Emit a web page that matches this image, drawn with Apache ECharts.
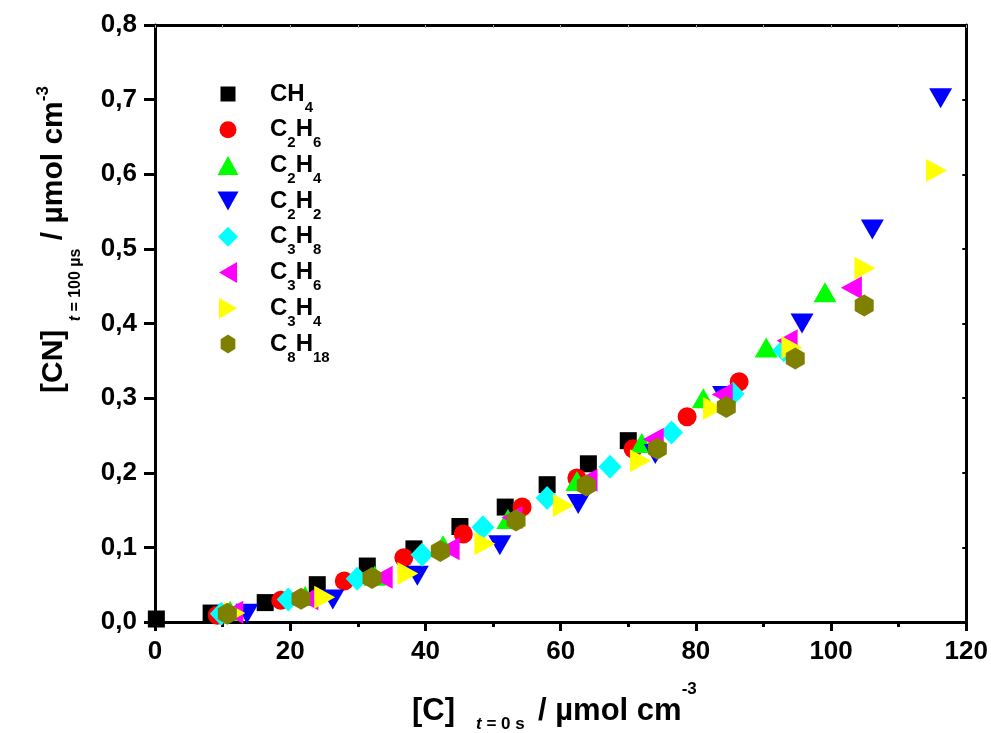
<!DOCTYPE html>
<html>
<head>
<meta charset="utf-8">
<script src="https://cdn.jsdelivr.net/npm/echarts@6/dist/echarts.min.js"></script>
<style>
  html, body { margin: 0; padding: 0; background: #fff; }
  #chart { width: 991px; height: 733px; }
</style>
</head>
<body>
<div id="chart"></div>
<script>
// [C] at t = 0 s (µmol cm-3) vs [CN] at t = 100 µs (µmol cm-3), one array per precursor
const CH4 = [[0.2, 0.004], [8.3, 0.012], [16.3, 0.026], [24.0, 0.050], [31.4, 0.075], [38.3, 0.098],
  [45.1, 0.128], [51.8, 0.154], [58.0, 0.184], [64.1, 0.212], [70.0, 0.243]];
const C2H6 = [[9.2, 0.009], [18.6, 0.029], [28.0, 0.055], [36.8, 0.086], [45.6, 0.118],
  [54.3, 0.154], [62.4, 0.193], [70.7, 0.232], [78.7, 0.275], [86.4, 0.322]];
const C2H4 = [[11.1, 0.015], [22.2, 0.035], [32.5, 0.062], [42.6, 0.103], [52.2, 0.138],
  [62.4, 0.189], [72.0, 0.240], [81.1, 0.300], [90.4, 0.368], [99.1, 0.442]];
const C2H2 = [[13.6, 0.011], [26.3, 0.030], [38.8, 0.062], [51.0, 0.103], [62.6, 0.158],
  [74.0, 0.225], [84.1, 0.303], [95.7, 0.400], [106.1, 0.526], [116.2, 0.702]];
const C3H8 = [[9.8, 0.011], [19.7, 0.030], [29.9, 0.058], [39.5, 0.090], [48.5, 0.127],
  [58.0, 0.166], [67.3, 0.208], [76.4, 0.254], [85.5, 0.306], [93.0, 0.364]];
const C3H6 = [[11.5, 0.013], [22.6, 0.031], [33.6, 0.060], [43.5, 0.098], [52.8, 0.140],
  [63.9, 0.190], [73.7, 0.245], [83.9, 0.305], [93.5, 0.377], [103.0, 0.448]];
const C3H4 = [[11.8, 0.012], [25.1, 0.033], [37.4, 0.065], [48.8, 0.105], [60.4, 0.156],
  [71.8, 0.216], [82.6, 0.286], [94.2, 0.368], [105.0, 0.474], [115.6, 0.605]];
const C8H18 = [[10.7, 0.011], [21.6, 0.031], [32.1, 0.059], [42.2, 0.095], [53.4, 0.136],
  [63.8, 0.183], [74.3, 0.232], [84.5, 0.288], [94.7, 0.353], [104.9, 0.424]];

const names = ['CH4', 'C2H6', 'C2H4', 'C2H2', 'C3H8', 'C3H6', 'C3H4', 'C8H18'];
const xTicks = [0, 20, 40, 60, 80, 100, 120];
const yTicks = [0, 0.1, 0.2, 0.3, 0.4, 0.5, 0.6, 0.7, 0.8];

const FONT = '"Liberation Sans", Arial, sans-serif';

// marker outlines on a unit box (scaled to symbolSize)
const SHAPES = {
  square:  'M-1,-1L1,-1L1,1L-1,1Z',
  up:      'M0,-1L1,1L-1,1Z',
  down:    'M-1,-1L1,-1L0,1Z',
  left:    'M-1,0L1,-1L1,1Z',
  right:   'M1,0L-1,-1L-1,1Z',
  diamond: 'M0,-1L1,0L0,1L-1,0Z',
  hexagon: 'M0,-1L0.866,-0.5L0.866,0.5L0,1L-0.866,0.5L-0.866,-0.5Z'
};

const styles = {
  CH4:   { shape: 'square',  size: [17, 17], icon: [15, 15], color: '#000000' },
  C2H6:  { shape: 'circle',  size: [19, 19], icon: [17, 17], color: '#ff0000' },
  C2H4:  { shape: 'up',      size: [23, 20], icon: [21, 19], color: '#00ff00' },
  C2H2:  { shape: 'down',    size: [23, 20], icon: [21, 19], color: '#0000ff' },
  C3H8:  { shape: 'diamond', size: [23, 24], icon: [20, 20], color: '#00ffff' },
  C3H6:  { shape: 'left',    size: [21, 23], icon: [18, 21], color: '#ff00ff' },
  C3H4:  { shape: 'right',   size: [21, 23], icon: [18, 21], color: '#ffff00' },
  C8H18: { shape: 'hexagon', size: [19, 22], icon: [17, 19], color: '#808000' }
};
const seriesData = { CH4, C2H6, C2H4, C2H2, C3H8, C3H6, C3H4, C8H18 };

function circlePath(rx, ry) {
  return 'M' + (-rx) + ',0A' + rx + ',' + ry + ',0,1,1,' + rx + ',0A' + rx + ',' + ry + ',0,1,1,' + (-rx) + ',0Z';
}
// path of a shape w x h drawn inside a fixed 24 x 24 legend cell
function iconPath(shape, w, h) {
  const rx = w / 2, ry = h / 2;
  const frame = 'M-12,-12M12,12';
  if (shape === 'circle') return 'path://' + frame + circlePath(rx, ry);
  const body = SHAPES[shape].replace(/(-?[\d.]+),(-?[\d.]+)/g,
    (m, a, b) => (parseFloat(a) * rx).toFixed(2) + ',' + (parseFloat(b) * ry).toFixed(2));
  return 'path://' + frame + body;
}
function markerSymbol(shape) {
  return shape === 'circle' ? 'circle' : 'path://' + SHAPES[shape];
}

// "C2H6" -> rich text with subscripted digits
function chemRich(name) {
  return name.replace(/([A-Z]+)|(\d+)/g, (m, letters, digits) =>
    letters ? '{m|' + letters + '}' : '{s|' + digits + '}');
}

// top-aligned rich fragment, shifted down from the line top by `offset`
function frag(size, lineH, offset, extra, padLeft) {
  return Object.assign({
    fontFamily: FONT, fontWeight: 'bold', fontSize: size,
    lineHeight: lineH, verticalAlign: 'top', padding: [offset, 0, 0, padLeft || 0]
  }, extra || {});
}

const chart = echarts.init(document.getElementById('chart'), null, { renderer: 'canvas' });

const axisLine = { show: true, onZero: false, lineStyle: { color: '#000', width: 3 } };

chart.setOption({
  animation: false,
  backgroundColor: '#fff',
  grid: { left: 155, right: 24, top: 25, bottom: 111, containLabel: false },
  legend: {
    orient: 'vertical',
    left: 216,
    top: 73,
    padding: 0,
    itemWidth: 24,
    itemHeight: 24,
    itemGap: -6.3,
    symbolKeepAspect: true,
    data: names.map(n => ({ name: n, icon: iconPath(styles[n].shape, styles[n].icon[0], styles[n].icon[1]) })),
    formatter: chemRich,
    textStyle: {
      padding: [0, 0, 0, 25],
      rich: {
        m: frag(24, 42, 9, { color: '#000' }),
        s: frag(15, 42, 27, { color: '#000' })
      }
    }
  },
  xAxis: [{
    type: 'value', position: 'bottom', min: 0, max: 120, interval: 20,
    axisLine,
    axisTick: { show: true, inside: false, length: 9, lineStyle: { width: 3, color: '#000' } },
    minorTick: { show: true, splitNumber: 2, length: 5, lineStyle: { width: 3, color: '#000' } },
    splitLine: { show: false },
    axisLabel: {
      margin: 17, color: '#000', fontFamily: FONT, fontWeight: 'bold', fontSize: 26,
      formatter: v => xTicks.includes(v) ? String(v) : ''
    }
  }, {
    type: 'value', position: 'top', min: 0, max: 120, interval: 20,
    axisLine,
    axisTick: { show: true, inside: true, length: 3, lineStyle: { width: 1, color: '#aaa' } },
    minorTick: { show: true, splitNumber: 2, length: 3, lineStyle: { width: 1, color: '#aaa' } },
    splitLine: { show: false },
    axisLabel: { show: false }
  }],
  yAxis: [{
    type: 'value', position: 'left', min: 0, max: 0.8, interval: 0.1,
    axisLine,
    axisTick: { show: true, inside: false, length: 11, lineStyle: { width: 3, color: '#000' } },
    splitLine: { show: false },
    axisLabel: {
      margin: 18, color: '#000', fontFamily: FONT, fontWeight: 'bold', fontSize: 26,
      formatter: v => {
        const t = yTicks.find(k => Math.abs(k - v) < 1e-9);
        return t === undefined ? '' : t.toFixed(1).replace('.', ',');
      }
    }
  }, {
    type: 'value', position: 'right', min: 0, max: 0.8, interval: 0.1,
    axisLine,
    axisTick: { show: true, inside: true, length: 4, lineStyle: { width: 2, color: '#000' } },
    splitLine: { show: false },
    axisLabel: { show: false }
  }],
  graphic: [{
    type: 'text',
    left: 412, top: 676,
    style: {
      text: '{m|[C]}{i|t}{s| = 0 s }{m| / µmol cm}{p|-3}',
      fill: '#000',
      rich: {
        m: frag(31, 60, 19.5),
        i: frag(17, 60, 39.5, { fontStyle: 'italic' }, 21),
        s: frag(17, 60, 39.5),
        p: frag(17, 60, 4.5)
      }
    }
  }, {
    type: 'text',
    x: 30, y: 393,
    rotation: Math.PI / 2,
    style: {
      text: '{m|[CN] }{i|t}{s| = 100 µs}{m| / µmol cm}{p|-3}',
      fill: '#000',
      rich: {
        m: frag(30, 60, 9),
        i: frag(16, 60, 38, { fontStyle: 'italic' }),
        s: frag(16, 60, 38),
        p: frag(17, 60, 4.5)
      }
    }
  }],
  series: names.map(n => ({
    name: n,
    type: 'scatter',
    xAxisIndex: 0,
    yAxisIndex: 0,
    clip: false,
    symbol: markerSymbol(styles[n].shape),
    symbolSize: styles[n].size,
    itemStyle: { color: styles[n].color, opacity: 1 },
    emphasis: { disabled: true },
    data: seriesData[n]
  }))
});
</script>
</body>
</html>
